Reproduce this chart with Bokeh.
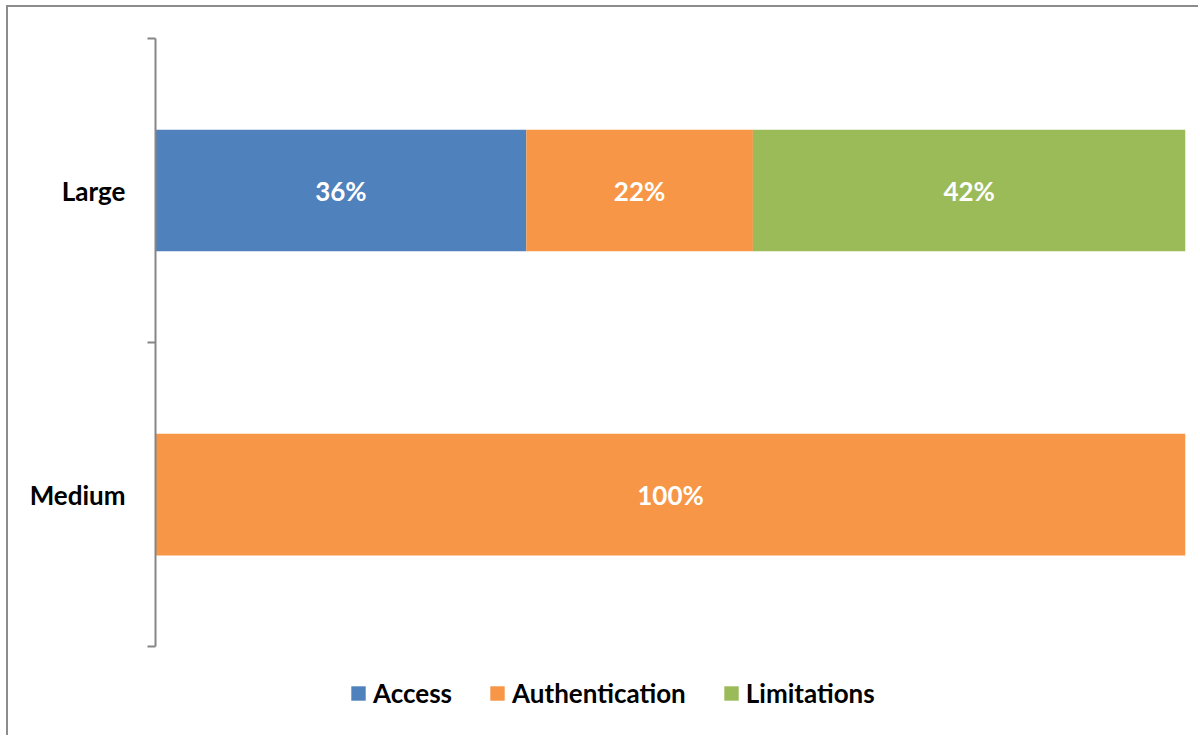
from bokeh.plotting import figure
from bokeh.models import (Range1d, LinearAxis, FixedTicker, Legend, LegendItem,
                          ColumnDataSource, LabelSet)
from bokeh.core.properties import value
from bokeh.embed import file_html
from bokeh.resources import INLINE

categories = ["Large", "Medium"]
series = ["Access", "Authentication", "Limitations"]
access = [36, 0]
authentication = [22, 100]
limitations = [42, 0]
colors = ["#4F81BD", "#F79646", "#9BBB59"]

FONT = "Lato"
FS = "26px"
n = len(categories)
ypos = [n - i - 0.5 for i in range(n)]  # Large on top

src = ColumnDataSource(dict(y=ypos, cat=categories, Access=access,
                            Authentication=authentication, Limitations=limitations))

p = figure(width=1192, height=730, output_backend="svg", toolbar_location=None,
           x_axis_type=None, y_axis_type=None,
           x_range=Range1d(0, 100), y_range=Range1d(-0.299, n),
           min_border_left=147, min_border_right=15, min_border_top=31, min_border_bottom=0)
p.outline_line_color = None
p.grid.visible = False
p.background_fill_color = "white"
p.border_fill_color = "white"
p.styles = {"box-shadow": "-2px -2px 0px 0px #8c8c8c",
            "margin-left": "8px", "margin-top": "7px"}

rs = p.hbar_stack(series, y="y", height=0.4, color=colors, source=src, line_color=None)

# data labels
lx, ly, lt = [], [], []
vals = {"Access": access, "Authentication": authentication, "Limitations": limitations}
for i in range(n):
    left = 0
    for s in series:
        v = vals[s][i]
        if v > 0:
            lx.append(left + v / 2)
            ly.append(ypos[i])
            lt.append(f"{v}%")
        left += v
lsrc = ColumnDataSource(dict(x=lx, y=ly, t=lt))
p.add_layout(LabelSet(x="x", y="y", text="t", source=lsrc, text_align="center",
                      text_baseline="middle", text_color="white", text_font=value(FONT),
                      text_font_style="bold", text_font_size=value(FS)))

# axis with boundary ticks
tick_axis = LinearAxis(ticker=FixedTicker(ticks=[0, 1, 2]), bounds=(0, n),
                       major_label_overrides={0: "", 1: "", 2: ""},
                       major_label_standoff=0, major_tick_out=8, major_tick_in=0,
                       minor_tick_out=0, minor_tick_in=0,
                       axis_line_color="#868686", axis_line_width=2,
                       major_tick_line_color="#868686", major_tick_line_width=2)
label_axis = LinearAxis(ticker=FixedTicker(ticks=ypos),
                        major_label_overrides={y: c for y, c in zip(ypos, categories)},
                        axis_line_color=None, major_tick_line_color=None,
                        minor_tick_line_color=None, major_tick_out=0, major_tick_in=0,
                        minor_tick_out=0, minor_tick_in=0,
                        major_label_standoff=22, major_label_text_font=FONT,
                        major_label_text_font_style="bold",
                        major_label_text_font_size=FS, major_label_text_color="black")
p.add_layout(tick_axis, "left")
p.add_layout(label_axis, "left")

legend = Legend(items=[LegendItem(label=s, renderers=[r]) for s, r in zip(series, rs)],
                orientation="horizontal", location=(194, 28), padding=0, spacing=36,
                glyph_width=18, glyph_height=18, label_standoff=6,
                border_line_color=None, background_fill_alpha=0,
                label_text_font=FONT, label_text_font_style="bold",
                label_text_font_size=FS, label_text_color="black")
p.add_layout(legend)

open("out.html", "w").write(file_html(p, INLINE))
